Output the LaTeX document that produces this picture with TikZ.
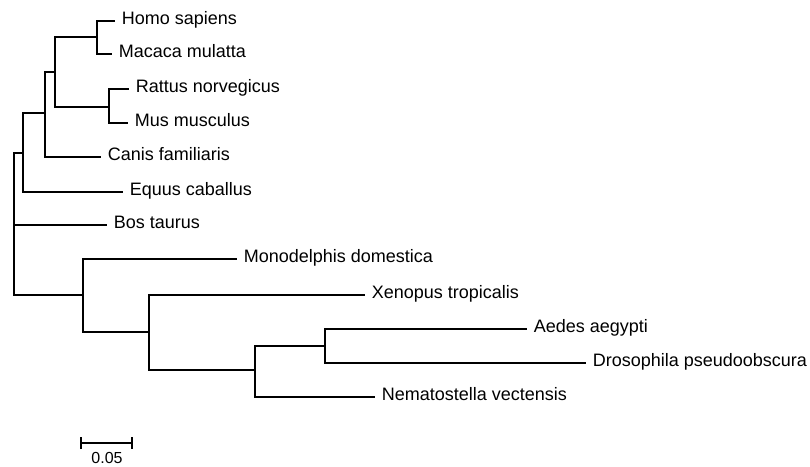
\documentclass[tikz,border=0pt]{standalone}
\usepackage{fontspec}
\setmainfont{Liberation Sans}
\usetikzlibrary{arrows.meta}

\begin{document}
\begin{tikzpicture}[x=1pt, y=-1pt, line width=1.6pt,
  leaf/.style={anchor=west, inner xsep=6pt, inner ysep=0pt, text height=0.72em, text depth=0pt, font=\fontsize{18}{20}\selectfont},
  barlabel/.style={inner sep=0pt, font=\fontsize{16}{18}\selectfont}]
  \useasboundingbox (0,0) rectangle (810,466);
  % inner nodes of the tree
  \coordinate (root) at (14,224);
  \coordinate (nA) at (23,153);
  \coordinate (nB) at (45,113);
  \coordinate (nC) at (55,72);
  \coordinate (nD) at (97,37);
  \coordinate (nE) at (109,107);
  \coordinate (nM) at (83,295);
  \coordinate (nN) at (149,332);
  \coordinate (nO) at (255,370);
  \coordinate (nP) at (325,346);
  % leaves
  \node[leaf] (homo) at (115,21) {Homo sapiens};
  \node[leaf] (macaca) at (112,54) {Macaca mulatta};
  \node[leaf] (rattus) at (129,89) {Rattus norvegicus};
  \node[leaf] (mus) at (128,123) {Mus musculus};
  \node[leaf] (canis) at (101,157) {Canis familiaris};
  \node[leaf] (equus) at (123,192) {Equus caballus};
  \node[leaf] (bos) at (107,225) {Bos taurus};
  \node[leaf] (mono) at (237,259) {Monodelphis domestica};
  \node[leaf] (xeno) at (365,295) {Xenopus tropicalis};
  \node[leaf] (aedes) at (527,329) {Aedes aegypti};
  \node[leaf] (droso) at (586,363) {Drosophila pseudoobscura};
  \node[leaf] (nema) at (375,397) {Nematostella vectensis};
  % branches
  \draw (root) |- (nA);
  \draw (root) |- (bos.west);
  \draw (root) |- (nM);
  \draw (nA) |- (nB);
  \draw (nA) |- (equus.west);
  \draw (nB) |- (nC);
  \draw (nB) |- (canis.west);
  \draw (nC) |- (nD);
  \draw (nC) |- (nE);
  \draw (nD) |- (homo.west);
  \draw (nD) |- (macaca.west);
  \draw (nE) |- (rattus.west);
  \draw (nE) |- (mus.west);
  \draw (nM) |- (mono.west);
  \draw (nM) |- (nN);
  \draw (nN) |- (xeno.west);
  \draw (nN) |- (nO);
  \draw (nO) |- (nP);
  \draw (nO) |- (nema.west);
  \draw (nP) |- (aedes.west);
  \draw (nP) |- (droso.west);
  % scale bar
  \coordinate (bar0) at (80,443);
  \coordinate (bar1) at (133,443);
  \draw[{Bar[width=12pt]}-{Bar[width=12pt]}] (bar0) -- (bar1);
  \node[barlabel] (barval) at (107,458) {0.05};
\end{tikzpicture}
\end{document}
